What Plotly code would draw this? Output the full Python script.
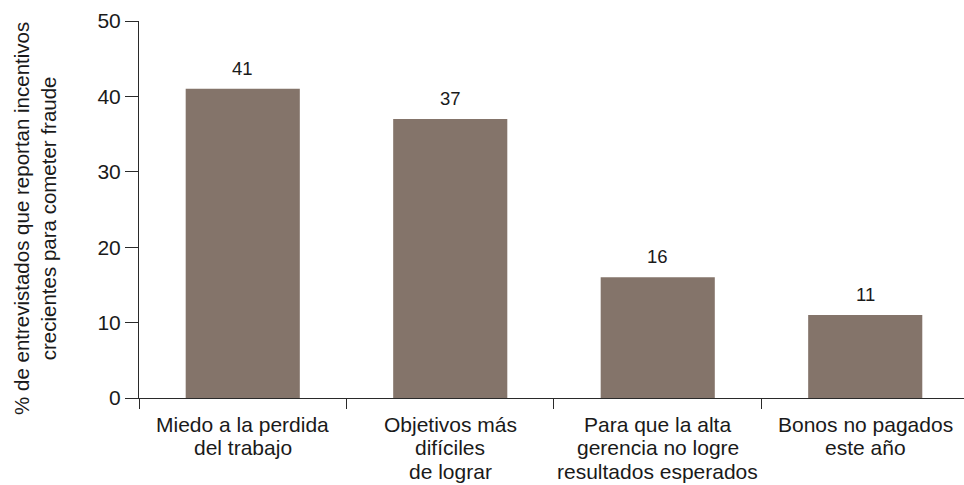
import plotly.graph_objects as go

# Incentives reported for committing fraud (% of respondents)
category_lines = [
    ["Miedo a la perdida", "del trabajo"],
    ["Objetivos más", "difíciles", "de lograr"],
    ["Para que la alta", "gerencia no logre", "resultados esperados"],
    ["Bonos no pagados", "este año"],
]
categories = [" ".join(lines) for lines in category_lines]
values = [41, 37, 16, 11]
y_ticks = [0, 10, 20, 30, 40, 50]
y_title_lines = [
    "% de entrevistados que reportan incentivos",
    "crecientes para cometer fraude",
]

BAR_COLOR = "#84746a"
TEXT_COLOR = "#1a1a1a"
AXIS_COLOR = "#2a2a2a"
FONT = "Liberation Sans, Arial, Helvetica, sans-serif"
LABEL_SIZE = 21
LINE_STEP = 23.4  # px between baselines of the category labels

fig = go.Figure(
    go.Bar(
        x=categories,
        y=values,
        width=0.55,
        marker=dict(color=BAR_COLOR, line=dict(width=0)),
        hoverinfo="skip",
    )
)

# Value labels above each bar
for cat, val in zip(categories, values):
    fig.add_annotation(
        x=cat, y=val, xref="x", yref="y",
        text=str(val), showarrow=False,
        yanchor="bottom", yshift=8,
        font=dict(family=FONT, size=18.5, color=TEXT_COLOR),
    )

# Category labels below the axis, one line at a time for tight leading
for cat, lines in zip(categories, category_lines):
    for j, line in enumerate(lines):
        fig.add_annotation(
            x=cat, y=0, xref="x", yref="y",
            text=line, showarrow=False,
            xanchor="center", yanchor="top",
            yshift=-(13 + j * LINE_STEP),
            font=dict(family=FONT, size=LABEL_SIZE, color=TEXT_COLOR),
        )

# Two-line vertical axis title
fig.add_annotation(
    x=0, y=0.475, xref="paper", yref="paper",
    xanchor="center", yanchor="middle", xshift=-104,
    text="<br>".join(y_title_lines), textangle=-90,
    showarrow=False,
    font=dict(family=FONT, size=20.5, color=TEXT_COLOR),
)

fig.update_layout(
    width=964,
    height=485,
    margin=dict(l=139, r=0, t=21, b=87, pad=0, autoexpand=False),
    paper_bgcolor="white",
    plot_bgcolor="white",
    showlegend=False,
    bargap=0.45,
    font=dict(family=FONT, color=TEXT_COLOR),
)

fig.update_xaxes(
    type="category",
    range=[-0.5, 3.476],
    tickson="boundaries",
    showticklabels=False,
    automargin=False,
    ticks="outside",
    ticklen=10,
    tickwidth=1,
    tickcolor=AXIS_COLOR,
    showline=True,
    linecolor=AXIS_COLOR,
    linewidth=1,
    showgrid=False,
    zeroline=False,
)

fig.update_yaxes(
    range=[0, 50],
    tickvals=y_ticks,
    automargin=False,
    ticks="outside",
    ticklen=13,
    tickwidth=1,
    tickcolor=AXIS_COLOR,
    showline=True,
    linecolor=AXIS_COLOR,
    linewidth=1,
    showgrid=False,
    zeroline=False,
    tickfont=dict(family=FONT, size=LABEL_SIZE, color=TEXT_COLOR),
)

fig.write_html("out.html")
